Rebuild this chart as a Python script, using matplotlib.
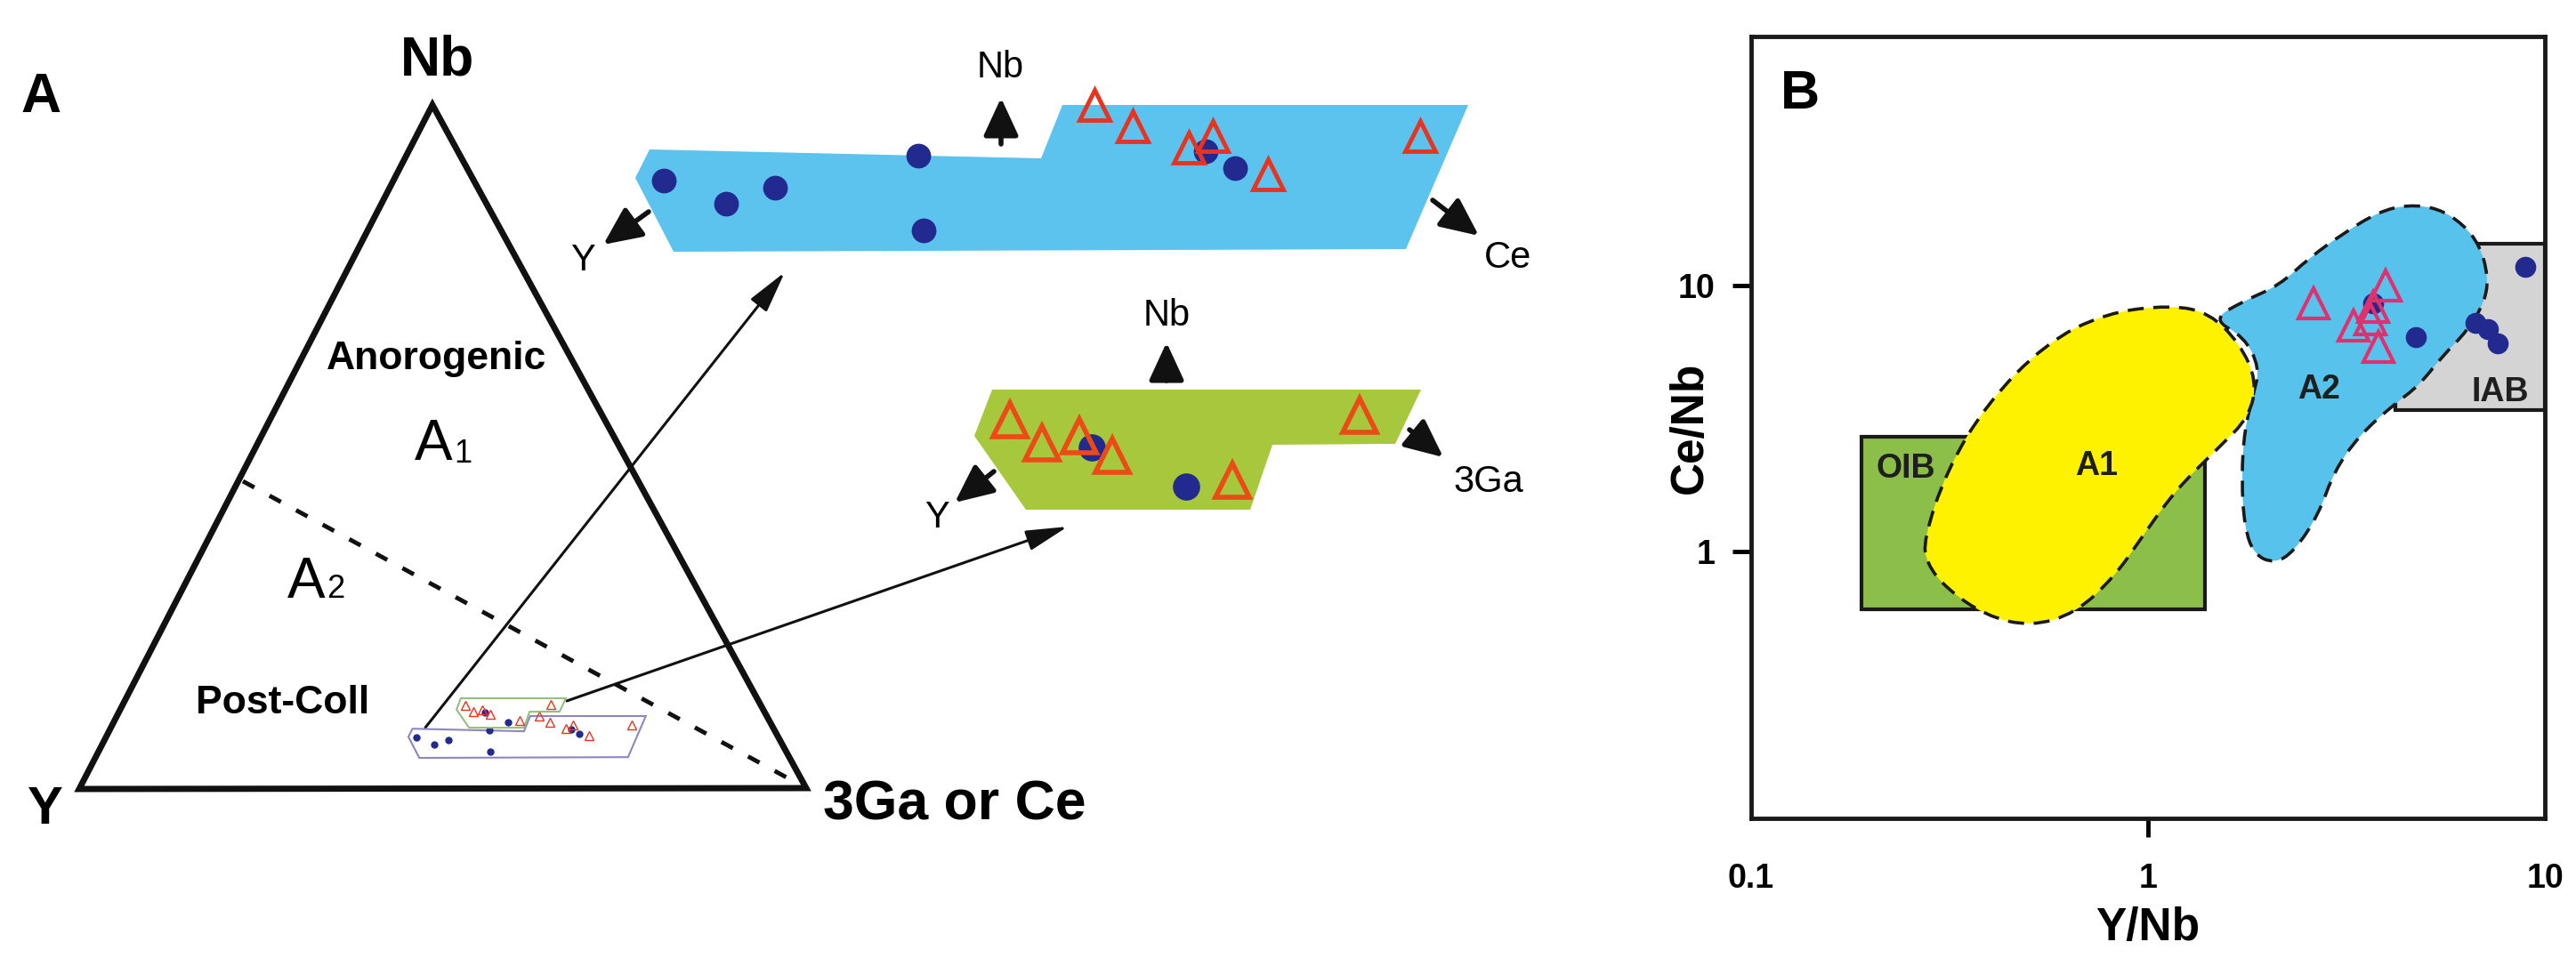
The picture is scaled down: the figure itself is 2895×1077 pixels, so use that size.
import numpy as np
import matplotlib.pyplot as plt
from matplotlib.patches import Polygon, Rectangle, PathPatch
from matplotlib.path import Path
from matplotlib.transforms import Affine2D
from matplotlib.ticker import NullLocator

plt.rcParams['font.family'] = ['Liberation Sans', 'DejaVu Sans']

# ---------------- panel A data (band sketches, local band units) ----------------
blue_band_u = [16, 456, 480, 936, 866, 43, 0]
blue_band_v = [50, 60, 0, 0, 162, 165, 82]
blue_dot_u = [32, 102, 157, 318, 324, 641, 674]
blue_dot_v = [85, 111, 93, 57, 141, 52, 71]
blue_tri_u = [516, 559, 622, 649, 711, 882]
blue_tri_v = [0, 24, 48, 35, 78, 35]

green_band_u = [20, 502, 473, 335, 310, 58, 0]
green_band_v = [0, 0, 61, 62, 135, 135, 52]
green_dot_u = [132, 238]
green_dot_v = [65, 109]
green_tri_u = [40, 76, 118, 155, 290, 433]
green_tri_v = [34, 60, 52, 74, 102, 29]

# ---------------- panel B data (Y/Nb, Ce/Nb) ----------------
oib_x = [0.19, 1.39]
oib_y = [0.61, 2.71]
iab_x = [4.2, 10.0]
iab_y = [3.41, 14.3]
a1_x = [0.272, 0.310, 0.391, 0.552, 0.780, 1.14, 1.43, 1.70, 1.88, 1.80,
        1.51, 1.17, 0.955, 0.826, 0.658, 0.506, 0.391, 0.310, 0.277]
a1_y = [1.11, 2.00, 3.58, 6.07, 7.88, 8.45, 7.88, 6.07, 4.40, 3.21,
        2.47, 1.70, 1.11, 0.813, 0.589, 0.525, 0.575, 0.730, 0.905]
a2_x = [1.45, 1.75, 2.14, 2.55, 3.11, 3.81, 4.52, 5.38, 6.22, 6.86, 7.19, 7.08,
        6.38, 5.53, 4.81, 4.16, 3.40, 2.94, 2.69, 2.33, 2.08, 1.85, 1.75, 1.72,
        1.75, 1.85, 1.91, 1.75]
a2_y = [7.47, 8.77, 10.0, 12.7, 15.7, 18.9, 20.1, 19.5, 17.0, 14.1, 10.9, 8.77,
        6.76, 5.45, 4.20, 3.57, 2.73, 2.00, 1.38, 1.00, 0.905, 0.977, 1.24, 1.89,
        2.88, 3.98, 4.90, 6.41]
b_dot_x = [8.91, 6.68, 7.19, 7.60, 4.73, 3.69]
b_dot_y = [11.7, 7.24, 6.87, 6.07, 6.41, 8.58]
b_tri_x = [2.61, 3.97, 3.69, 3.64, 3.30, 3.81]
b_tri_y = [8.58, 10.0, 8.32, 7.47, 7.08, 5.89]

navy = '#232a8f'
red = '#e8341f'
magenta = '#e2306f'

W, H = 2895, 1077
fig = plt.figure(figsize=(W / 100, H / 100), dpi=100)

# ---------------- panel A : drawn on a pixel canvas ----------------
ax = fig.add_axes([0, 0, 1, 1])
ax.set_xlim(0, W)
ax.set_ylim(H, 0)
ax.axis('off')

# ternary frame
ax.add_patch(Polygon([[89, 887], [906, 886], [486, 118]], closed=True, fill=False,
                     lw=5, ec='#111111', joinstyle='miter', zorder=2))
ax.plot([273, 884], [541, 874], color='#111111', lw=3.5, ls=(0, (3, 4)), zorder=2)

ax.text(46, 110, 'A', fontsize=45, fontweight='bold', ha='center', va='center')
ax.text(492, 68, 'Nb', fontsize=45, fontweight='bold', ha='center', va='center')
ax.text(50, 910, 'Y', fontsize=43, fontweight='bold', ha='center', va='center')
ax.text(925, 905, '3Ga or Ce', fontsize=45, fontweight='bold', ha='left', va='center')
ax.text(491, 404, 'Anorogenic', fontsize=32, fontweight='bold', ha='center', va='center')
ax.text(318, 791, 'Post-Coll', fontsize=32, fontweight='bold', ha='center', va='center')
ax.text(487, 500, 'A', fontsize=46, ha='center', va='center')
ax.text(520, 510, '1', fontsize=26, ha='center', va='center')
ax.text(344, 655, 'A', fontsize=46, ha='center', va='center')
ax.text(377, 662, '2', fontsize=26, ha='center', va='center')


def draw_band(tf, bu, bv, du, dv, tu, tv, fc, ec, lw, ms_dot, ms_tri, tri_c, mew, z):
    ax.add_patch(Polygon(np.column_stack([bu, bv]), closed=True, fc=fc, ec=ec,
                         lw=lw, transform=tf, zorder=z))
    ax.plot(du, dv, 'o', color=navy, ms=ms_dot, mec=navy, transform=tf, zorder=z + 1)
    ax.plot(tu, tv, '^', mfc='none', mec=tri_c, ms=ms_tri, mew=mew, transform=tf,
            zorder=z + 2)


# magnified bands
blue_big = Affine2D().translate(714, 118) + ax.transData
green_big = Affine2D().translate(1095, 438) + ax.transData
draw_band(blue_big, blue_band_u, blue_band_v, blue_dot_u, blue_dot_v, blue_tri_u,
          blue_tri_v, '#5cc2ee', 'none', 0, 19, 24, red, 3.5, 3)
draw_band(green_big, green_band_u, green_band_v, green_dot_u, green_dot_v, green_tri_u,
          green_tri_v, '#a7c83c', 'none', 0, 21, 27, '#ec4a16', 4, 3)

# the same bands, small, inside the ternary
blue_small = Affine2D().scale(0.285).translate(459, 805) + ax.transData
green_small = Affine2D().scale(0.245).translate(513, 785) + ax.transData
draw_band(blue_small, blue_band_u, blue_band_v, blue_dot_u, blue_dot_v, blue_tri_u,
          blue_tri_v, 'none', '#8c86c4', 1.5, 5, 7, red, 1, 6)
draw_band(green_small, green_band_u, green_band_v, green_dot_u, green_dot_v, green_tri_u,
          green_tri_v, 'white', '#93c07f', 1.5, 5, 7, red, 1, 9)

# long pointer arrows
thin = dict(arrowstyle='-|>,head_length=0.9,head_width=0.22', lw=2.2, color='#111111',
            mutation_scale=32, shrinkA=0, shrinkB=0)
ax.annotate('', xy=(882, 306), xytext=(478, 818), arrowprops=thin, zorder=4)
ax.annotate('', xy=(1200, 592), xytext=(637, 788), arrowprops=thin, zorder=4)

# axis arrows on the bands
thick = dict(arrowstyle='-|>,head_length=0.65,head_width=0.3', lw=4, color='#111111',
             mutation_scale=40, shrinkA=0, shrinkB=0)
for start, end in [((1125, 162), (1125, 110)), ((729, 238), (678, 275)),
                   ((1610, 225), (1662, 265)), ((1311, 428), (1311, 385)),
                   ((1117, 530), (1073, 565)), ((1584, 483), (1622, 514))]:
    ax.annotate('', xy=end, xytext=start, arrowprops=thick, zorder=4)

ax.text(1124, 76, 'Nb', fontsize=30, ha='center', va='center')
ax.text(655, 293, 'Y', fontsize=30, ha='center', va='center')
ax.text(1695, 290, 'Ce', fontsize=30, ha='center', va='center')
ax.text(1311, 355, 'Nb', fontsize=30, ha='center', va='center')
ax.text(1053, 582, 'Y', fontsize=30, ha='center', va='center')
ax.text(1633, 542, '3Ga', fontsize=30, ha='left', va='center')

# ---------------- panel B ----------------
bx = fig.add_axes([1968 / W, 1 - 920 / H, (2860 - 1968) / W, (920 - 41) / H])
bx.set_xscale('log')
bx.set_yscale('log')
bx.set_xlim(0.1, 10)
bx.set_ylim(0.1, 86)


def blob(xs, ys, fc, z):
    lx, ly = np.log10(xs), np.log10(ys)
    pts = np.column_stack([lx, ly])
    mids = (pts + np.roll(pts, -1, axis=0)) / 2
    verts = [mids[-1]]
    codes = [Path.MOVETO]
    for p, m in zip(pts, mids):
        verts += [p, m]
        codes += [Path.CURVE3, Path.CURVE3]
    verts = 10 ** np.array(verts)
    bx.add_patch(PathPatch(Path(verts, codes), fc=fc, ec='#1a1a1a', lw=2.6,
                           ls=(0, (5, 3)), zorder=z))


bx.add_patch(Rectangle((oib_x[0], oib_y[0]), oib_x[1] - oib_x[0], oib_y[1] - oib_y[0],
                       fc='#8cbf4a', ec='#1a1a1a', lw=3, zorder=1))
bx.add_patch(Rectangle((iab_x[0], iab_y[0]), iab_x[1] - iab_x[0], iab_y[1] - iab_y[0],
                       fc='#d4d4d4', ec='#1a1a1a', lw=3, zorder=1))
blob(a2_x, a2_y, '#57c3ec', 2)
blob(a1_x, a1_y, '#fff200', 3)

bx.plot(b_dot_x, b_dot_y, 'o', color=navy, ms=16, zorder=5)
bx.plot(b_tri_x, b_tri_y, '^', mfc='none', mec=magenta, ms=24, mew=3, zorder=6)

lab = dict(fontsize=27, fontweight='bold', color='#1f1f1f', ha='center', va='center',
           zorder=7)
bx.text(0.245, 2.05, 'OIB', **lab)
bx.text(0.74, 2.1, 'A1', **lab)
bx.text(2.69, 4.07, 'A2', **lab)
bx.text(7.7, 3.98, 'IAB', **lab)
bx.text(0.062, 0.925, 'B', transform=bx.transAxes, fontsize=44, fontweight='bold',
        ha='center', va='center')

bx.set_xticks([0.1, 1, 10])
bx.set_xticklabels(['0.1', '1', '10'])
bx.set_yticks([1, 10])
bx.set_yticklabels(['1', '10'])
bx.xaxis.set_minor_locator(NullLocator())
bx.yaxis.set_minor_locator(NullLocator())
bx.tick_params(direction='out', length=15, width=3.5, labelsize=27, pad=14)
bx.tick_params(axis='x', pad=21)
ticks = bx.xaxis.get_major_ticks()
ticks[0].tick1line.set_visible(False)
ticks[2].tick1line.set_visible(False)
for t in bx.get_xticklabels() + bx.get_yticklabels():
    t.set_fontweight('bold')
for s in bx.spines.values():
    s.set_linewidth(3.5)
    s.set_color('#1a1a1a')

bx.set_xlabel('Y/Nb', fontsize=37, fontweight='bold')
bx.set_ylabel('Ce/Nb', fontsize=37, fontweight='bold')
bx.xaxis.set_label_coords(0.5, -0.113)
bx.yaxis.set_label_coords(-0.05, 0.5)

fig.savefig('out.png', dpi=100, facecolor='white')
